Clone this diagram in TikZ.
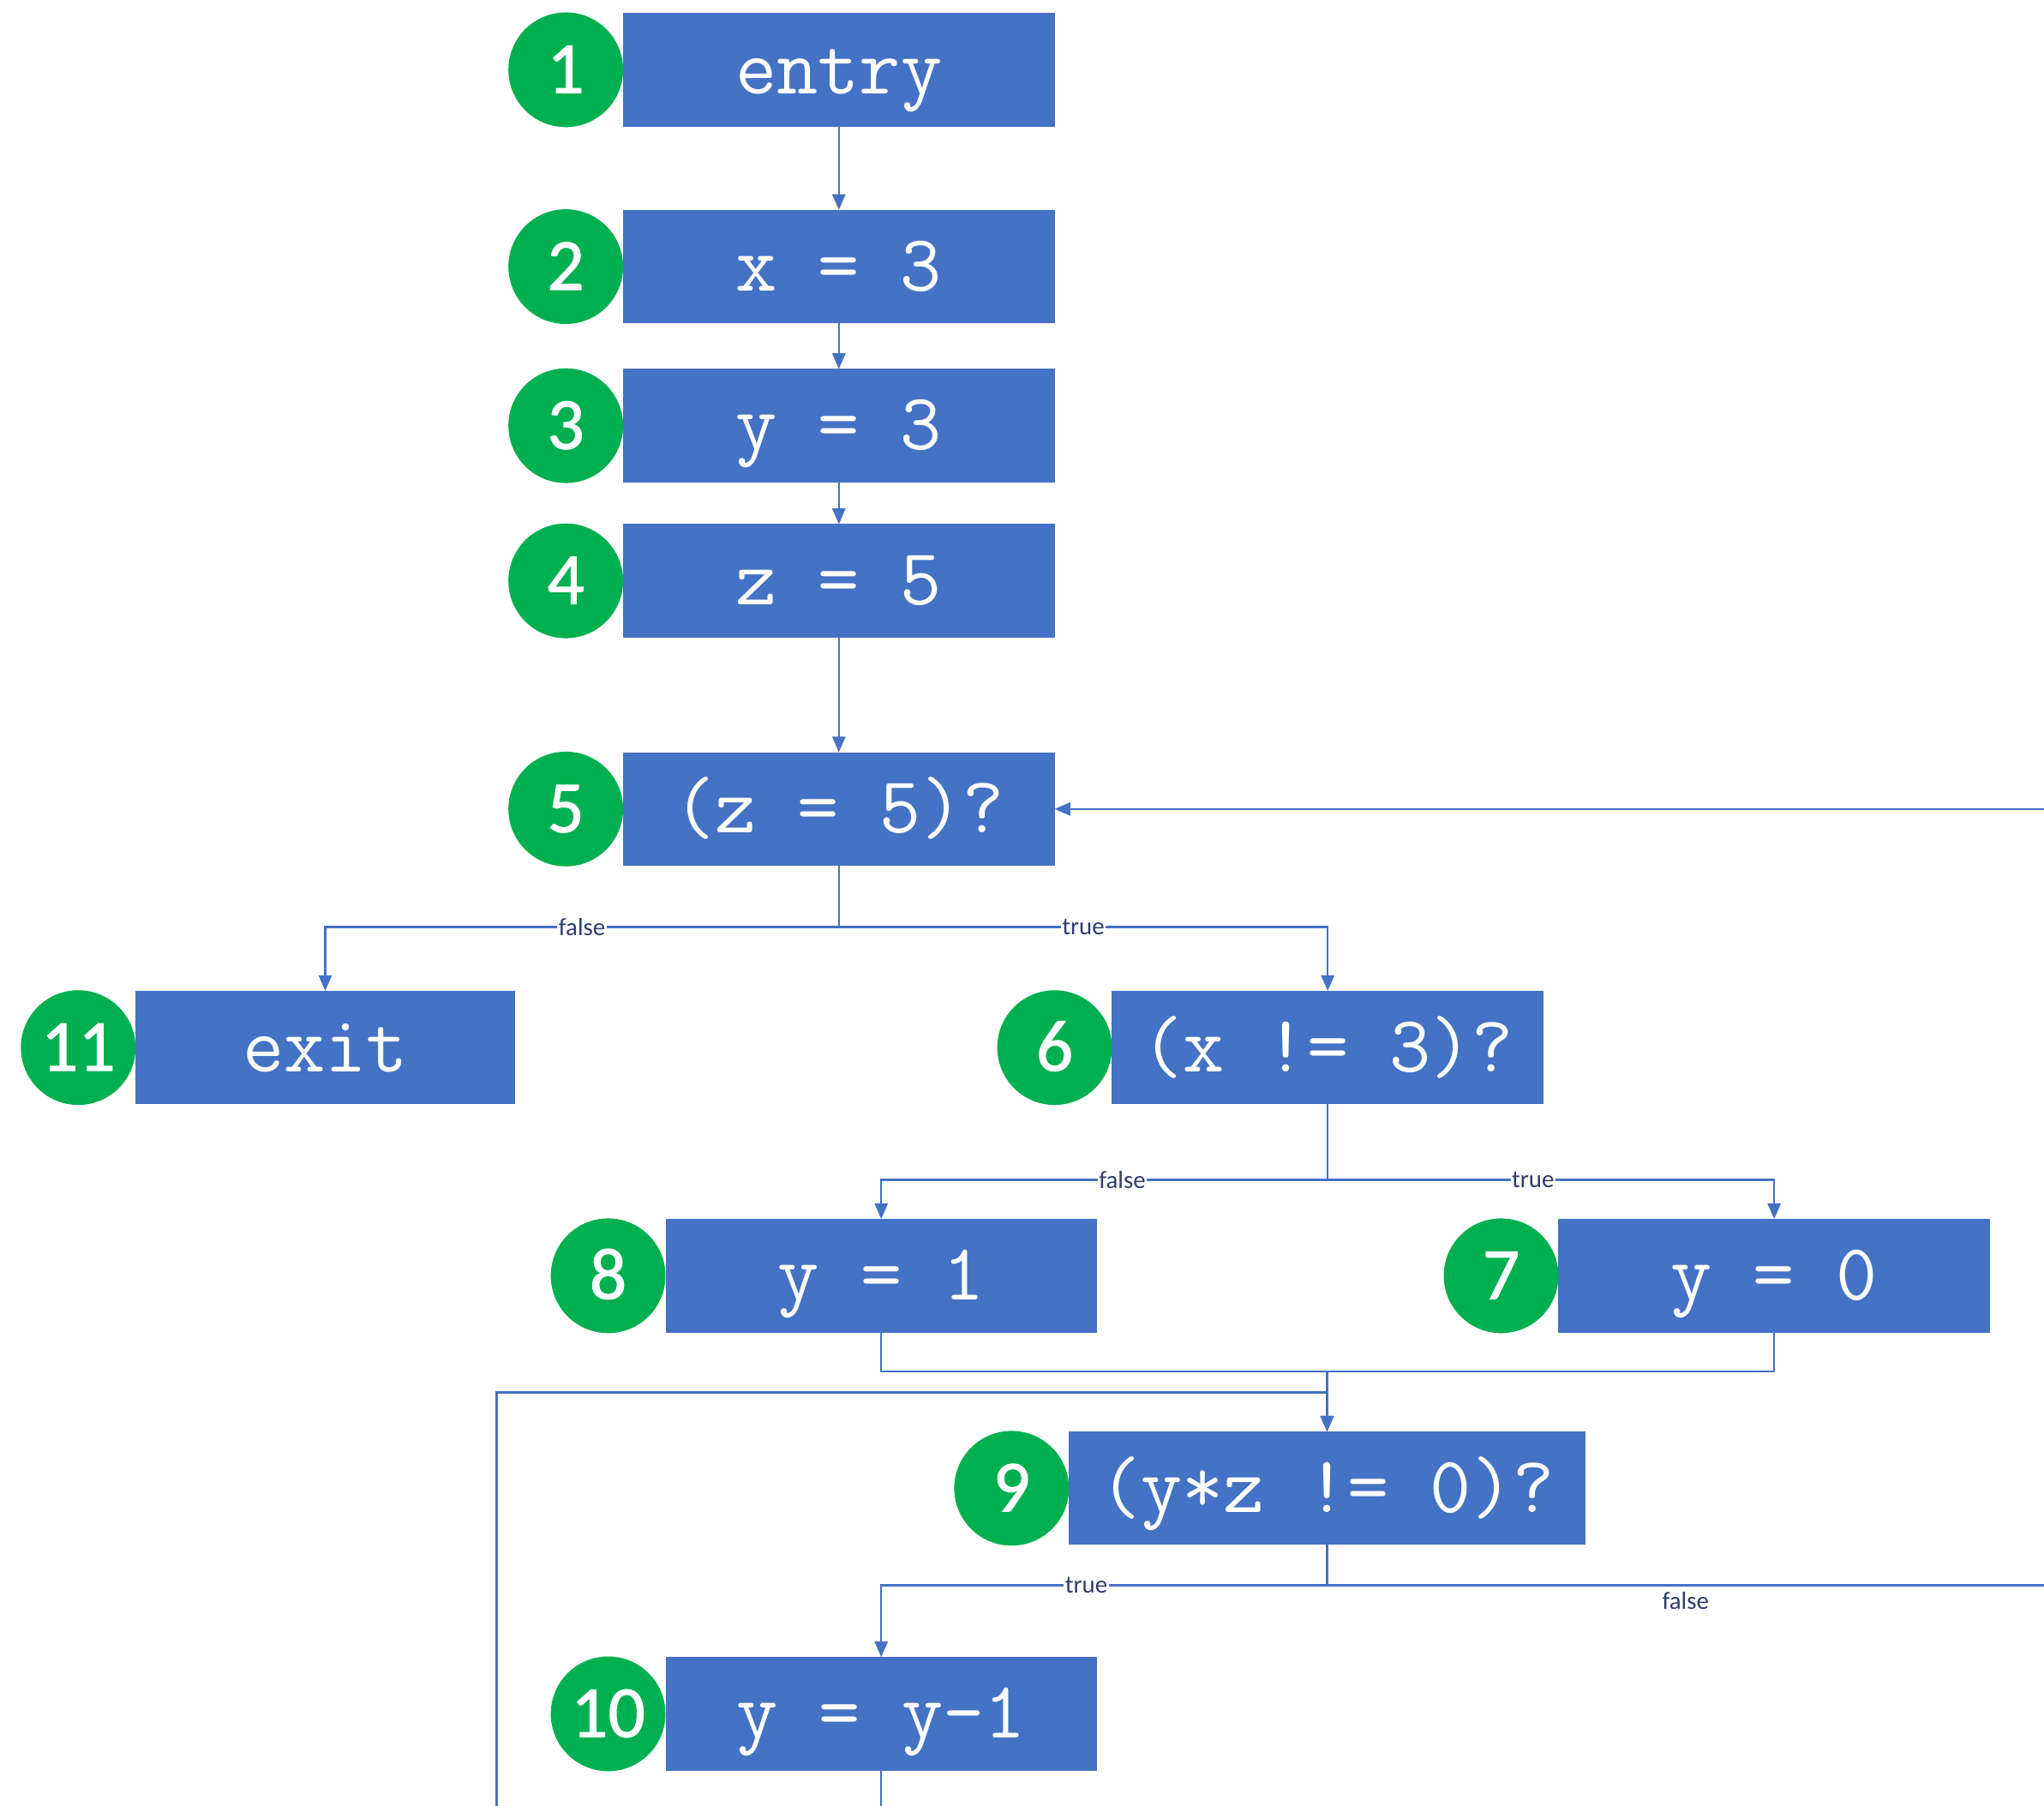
\documentclass[tikz,border=0pt]{standalone}
\usepackage{fontspec}
\usetikzlibrary{positioning,arrows.meta,calc}
\newfontfamily\numfont[FakeBold=1.2]{Carlito}
\newfontfamily\lblfont{Carlito}
\definecolor{boxblue}{HTML}{4472C4}
\definecolor{numgreen}{HTML}{00B050}
\definecolor{lbltext}{HTML}{2E3D6B}

\tikzset{
  stmt/.style={fill=boxblue, text=white, minimum width=3.31cm, minimum height=0.87cm,
    inner sep=0pt, outer sep=0pt, text height=0.37cm, text depth=0cm,
    font=\ttfamily\fontsize{17.5}{20}\selectfont},
  num/.style={circle, fill=numgreen, text=white, minimum size=0.88cm, inner sep=0pt,
    outer sep=0pt, text height=0.355cm, text depth=0cm,
    font=\numfont\fontsize{16}{18}\selectfont},
  flow/.style={draw=boxblue, line width=0.45pt, -{Triangle[length=0.12cm,width=0.1cm]}},
  wire/.style={draw=boxblue, line width=0.45pt},
  lbl/.style={fill=white, inner sep=0.3pt, text=lbltext, font=\lblfont\fontsize{5.4}{6}\selectfont},
}

\begin{document}
\begin{tikzpicture}
\useasboundingbox (0,0) rectangle (15.68,-13.85);

\node[stmt] (n1) at (6.435,-0.535) {entry};
\node[stmt, below=0.64cm of n1] (n2) {x = 3};
\node[stmt, below=0.35cm of n2] (n3) {y = 3};
\node[stmt, below=0.32cm of n3] (n4) {z = 5};
\node[stmt, below=0.88cm of n4] (n5) {(z = 5)?};
\node[stmt, minimum width=2.91cm] (n11) at (2.495,-8.035) {exit};
\node[stmt] (n6) at (10.185,-8.035) {(x != 3)?};
\node[stmt] (n8) at (6.76,-9.785) {y = 1};
\node[stmt] (n7) at (13.61,-9.785) {y = 0};
\node[stmt, minimum width=3.96cm] (n9) at (10.18,-11.415) {(y*z != 0)?};
\node[stmt] (n10) at (6.76,-13.145) {y = y-1};

\node[num, left=0pt of n1] (c1) {1};
\node[num, left=0pt of n2] (c2) {2};
\node[num, left=0pt of n3] (c3) {3};
\node[num, left=0pt of n4] (c4) {4};
\node[num, left=0pt of n5] (c5) {5};
\node[num, left=0pt of n6] (c6) {6};
\node[num, left=0pt of n7] (c7) {7};
\node[num, left=0pt of n8] (c8) {8};
\node[num, left=0pt of n9] (c9) {9};
\node[num, left=0pt of n10] (c10) {10};
\node[num, left=0pt of n11] (c11) {11};

\coordinate (in5) at (n5.east -| 15.68,0);
\coordinate (j9) at ($(n9.south)+(0,-0.31)$);
\coordinate (out9) at (j9 -| 15.68,0);
\coordinate (loopout) at (n10.south |- 0,-13.85);
\coordinate (loopin) at (3.81,-13.85);

\draw[flow] (n1) -- (n2);
\draw[flow] (n2) -- (n3);
\draw[flow] (n3) -- (n4);
\draw[flow] (n4) -- (n5);

\draw[flow] (n5.south) -- ++(0,-0.47) -| node[lbl, pos=0.25] {false} (n11.north);
\draw[flow] (n5.south) -- ++(0,-0.47) -| node[lbl, pos=0.25] {true} (n6.north);

\draw[flow] (n6.south) -- ++(0,-0.58) -| node[lbl, pos=0.23] {false} (n8.north);
\draw[flow] (n6.south) -- ++(0,-0.58) -| node[lbl, pos=0.23] {true} (n7.north);

\draw[flow] (n8.south) -- ++(0,-0.30) -| (n9.north);
\draw[flow] (n7.south) -- ++(0,-0.30) -| (n9.north);

\draw[flow] (n9.south) -- (j9) -| node[lbl, pos=0.27] {true} (n10.north);
\draw[wire] (j9) -- node[lbl, fill=none, below=1pt] {false} (out9);

\draw[wire] (n10.south) -- (loopout);
\draw[flow] (loopin) |- ($(n9.north)+(0,0.30)$) -- (n9.north);
\draw[flow] (in5) -- (n5.east);
\end{tikzpicture}
\end{document}
